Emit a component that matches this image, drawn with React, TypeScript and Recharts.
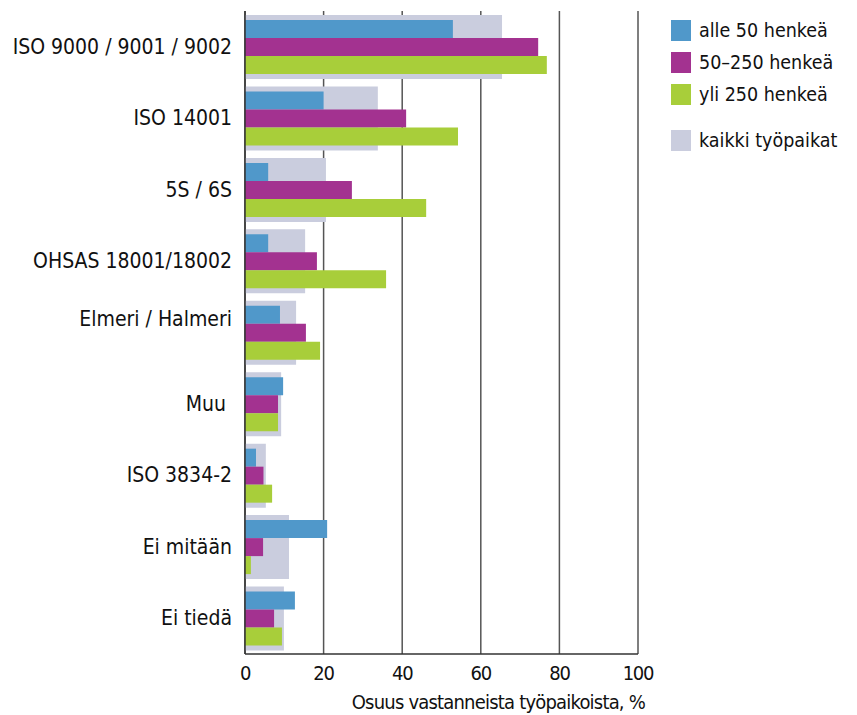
import React from "react";
import { BarChart, Bar, XAxis, YAxis, CartesianGrid, Legend, Label } from "recharts";

const categories = [
  "ISO 9000 / 9001 / 9002",
  "ISO 14001",
  "5S / 6S",
  "OHSAS 18001/18002",
  "Elmeri / Halmeri",
  "Muu\u00a0",
  "ISO 3834-2",
  "Ei mitään",
  "Ei tiedä",
];
const alle50 = [52.9, 20, 5.9, 5.9, 8.9, 9.7, 2.8, 20.9, 12.7];
const mid250 = [74.6, 41.0, 27.2, 18.3, 15.5, 8.4, 4.7, 4.6, 7.4];
const yli250 = [76.8, 54.2, 46.1, 35.9, 19.1, 8.4, 6.9, 1.5, 9.4];
const kaikki = [65.4, 33.8, 20.6, 15.3, 13.0, 9.2, 5.3, 11.2, 9.9];
const xTicks = [0, 20, 40, 60, 80, 100];

const seriesNames = ["alle 50 henkeä", "50\u2013250 henkeä", "yli 250 henkeä", "kaikki työpaikat"];
const seriesColors = ["#5098CA", "#A33290", "#A8CE3A", "#CACDDE"];
const axisTitle = "Osuus vastanneista työpaikoista, %";

const data = categories.map((name, i) => ({
  name,
  alle50: alle50[i],
  mid250: mid250[i],
  yli250: yli250[i],
  kaikki: kaikki[i],
}));

const FONT = '"Liberation Sans Narrow", "DejaVu Sans Condensed", "Roboto Condensed", Roboto, sans-serif';

const CategoryTick = (props: any) => {
  const { x, y, payload, index } = props;
  const dy = index === 4 ? -14 : 0;
  return (
    <text
      x={x}
      y={y + dy}
      textAnchor="end"
      dominantBaseline="central"
      fontFamily={FONT}
      fontSize={21}
      fill="#111"
    >
      {payload.value}
    </text>
  );
};

const LegendContent = () => (
  <div style={{ fontFamily: FONT, fontSize: 19.5, color: "#111" }}>
    {seriesNames.map((n, i) => (
      <div
        key={n}
        style={{
          display: "flex",
          alignItems: "center",
          height: 21,
          marginBottom: i === 2 ? 25 : 11,
        }}
      >
        <div style={{ width: 20, height: 21, background: seriesColors[i], marginRight: 8, flexShrink: 0 }} />
        <span style={{ lineHeight: "21px", whiteSpace: "nowrap" }}>{n}</span>
      </div>
    ))}
  </div>
);

export default function App() {
  return (
    <div style={{ position: "absolute", left: 0, top: 0, width: 857, height: 715, background: "#fff" }}>
      <BarChart
        width={857}
        height={715}
        layout="vertical"
        data={data}
        margin={{ top: 11, right: 219, left: 0, bottom: 0 }}
        barGap={0}
        barCategoryGap={0}
      >
        <CartesianGrid horizontal={false} vertical={true} stroke="#555" strokeWidth={1.5} yAxisId="main" />
        <XAxis
          type="number"
          domain={[0, 100]}
          ticks={xTicks}
          height={61}
          tickLine={false}
          axisLine={{ stroke: "#333", strokeWidth: 1.5 }}
          tick={{ fontFamily: FONT, fontSize: 20, fill: "#111", letterSpacing: -1.2 }}
          tickMargin={6}
          interval={0}
        >
          <Label
            content={(p: any) => {
              const vb = p.viewBox;
              return (
                <text
                  x={vb.x + vb.width + 7}
                  y={vb.y + 55}
                  textAnchor="end"
                  fontFamily={FONT}
                  fontSize={20}
                  letterSpacing={-0.8}
                  fill="#111"
                >
                  {axisTitle}
                </text>
              );
            }}
          />
        </XAxis>
        <YAxis
          yAxisId="main"
          type="category"
          dataKey="name"
          width={245}
          tickLine={false}
          axisLine={{ stroke: "#333", strokeWidth: 1.5 }}
          tick={<CategoryTick />}
          tickSize={6}
          tickMargin={7}
          interval={0}
        />
        <YAxis yAxisId="bg" type="category" dataKey="name" hide width={0} />
        <Legend
          layout="horizontal"
          verticalAlign="middle"
          align="center"
          content={<LegendContent />}
          wrapperStyle={{ position: "absolute", left: 671, top: 20, width: 186 }}
        />
        <Bar yAxisId="bg" dataKey="kaikki" name={seriesNames[3]} fill={seriesColors[3]} barSize={64} isAnimationActive={false} />
        <Bar yAxisId="main" dataKey="alle50" name={seriesNames[0]} fill={seriesColors[0]} barSize={18} isAnimationActive={false} />
        <Bar yAxisId="main" dataKey="mid250" name={seriesNames[1]} fill={seriesColors[1]} barSize={18} isAnimationActive={false} />
        <Bar yAxisId="main" dataKey="yli250" name={seriesNames[2]} fill={seriesColors[2]} barSize={18} isAnimationActive={false} />
      </BarChart>
    </div>
  );
}
